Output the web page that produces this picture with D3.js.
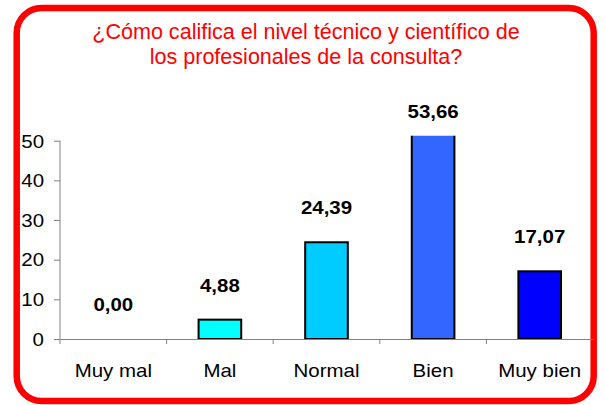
<!DOCTYPE html>
<html>
<head>
<meta charset="utf-8">
<script src="https://cdn.jsdelivr.net/npm/d3@7"></script>
<style>
  body { margin: 0; background: #fff; }
  text { font-family: "Liberation Sans", Arial, sans-serif; }
</style>
</head>
<body>
<div id="chart"></div>
<script>
// data
var categories = ["Muy mal", "Mal", "Normal", "Bien", "Muy bien"];
var values = [0.00, 4.88, 24.39, 53.66, 17.07];
var barColors = ["#00ffff", "#00ffff", "#00ccff", "#3366ff", "#0000ff"];
var yTicks = [0, 10, 20, 30, 40, 50];
var titleLines = ["¿Cómo califica el nivel técnico y científico de", "los profesionales de la consulta?"];

var width = 605, height = 405;
var margin = { left: 60, right: 12, top: 140.7, bottom: 66 };
var stretch = 1.17; // axis and value text in the picture is a bit wide
var axisColor = "#808080";

var svg = d3.select("#chart")
   .append("svg")
   .attr("width", width)
   .attr("height", height);

// red frame
svg.append("rect")
   .attr("x", 16.7).attr("y", 8)
   .attr("width", 577).attr("height", 393)
   .attr("rx", 25).attr("ry", 25)
   .style("fill", "none")
   .style("stroke", "#ff0000")
   .style("stroke-width", 6.5);

// title
titleLines.forEach(function (t, i) {
   svg.append("g")
      .attr("transform", "translate(306," + (39 + i * 25) + ") scale(0.98,1)")
      .append("text")
      .attr("text-anchor", "middle")
      .style("font-size", "22px")
      .style("fill", "#ff0000")
      .text(t);
});

var x = d3.scaleBand()
   .domain(categories)
   .range([margin.left, width - margin.right]);

var y = d3.scaleLinear()
   .domain([0, 50])
   .range([height - margin.bottom, margin.top]);

var plotTop = y(50) - 5;

svg.append("clipPath").attr("id", "plot-clip")
   .append("rect")
   .attr("x", margin.left).attr("y", plotTop)
   .attr("width", width - margin.left).attr("height", y(0) - plotTop);

var barW = x.bandwidth() * 0.4;

// y axis
var yAxis = svg.append("g")
   .attr("transform", "translate(" + margin.left + ",0)")
   .call(d3.axisLeft(y).tickValues(yTicks).tickSize(6).tickPadding(10).tickSizeOuter(0));
yAxis.select(".domain").attr("d", "M0," + y(0) + "V" + y(50)).style("stroke", axisColor);
yAxis.selectAll(".tick line").style("stroke", axisColor);
yAxis.selectAll(".tick text")
   .style("font-size", "17.5px")
   .style("fill", "#000")
   .attr("transform", "scale(" + stretch + ",1)")
   .attr("x", -16 / stretch)
   .attr("dy", "0.36em");

// x axis
var xAxis = svg.append("g")
   .attr("transform", "translate(0," + y(0) + ")")
   .call(d3.axisBottom(x).tickSize(0).tickPadding(0).tickSizeOuter(0));
xAxis.select(".domain").style("stroke", axisColor);
xAxis.selectAll(".tick text").remove();
xAxis.selectAll(".tick").each(function (d, i) {
   var g = d3.select(this);
   g.append("line")
      .attr("x1", -x.bandwidth() / 2).attr("x2", -x.bandwidth() / 2)
      .attr("y1", 0).attr("y2", 5)
      .style("stroke", axisColor);
   g.append("g")
      .attr("transform", "translate(0,38) scale(" + stretch + ",1)")
      .append("text")
      .attr("text-anchor", "middle")
      .style("font-size", "17.5px")
      .style("fill", "#000")
      .text(d);
});

// bars
svg.append("g")
   .attr("clip-path", "url(#plot-clip)")
   .selectAll(".bar")
   .data(values)
   .enter().append("rect")
   .attr("class", "bar")
   .attr("x", function (d, i) { return x(categories[i]) + (x.bandwidth() - barW) / 2; })
   .attr("y", function (d) { return y(d); })
   .attr("width", barW)
   .attr("height", function (d) { return y(0) - y(d); })
   .style("fill", function (d, i) { return barColors[i]; })
   .style("stroke", function (d) { return d > 0 ? "#000" : "none"; })
   .style("stroke-width", 2);

// value labels
svg.selectAll(".val")
   .data(values)
   .enter().append("g")
   .attr("class", "val")
   .attr("transform", function (d, i) {
      var top = y(d);
      var ly = top < plotTop ? plotTop - 18 : top - 28;
      return "translate(" + (x(categories[i]) + x.bandwidth() / 2) + "," + ly + ") scale(" + stretch + ",1)";
   })
   .append("text")
   .attr("text-anchor", "middle")
   .style("font-size", "17.5px")
   .style("font-weight", "bold")
   .text(function (d) { return d.toFixed(2).replace(".", ","); });
</script>
</body>
</html>
